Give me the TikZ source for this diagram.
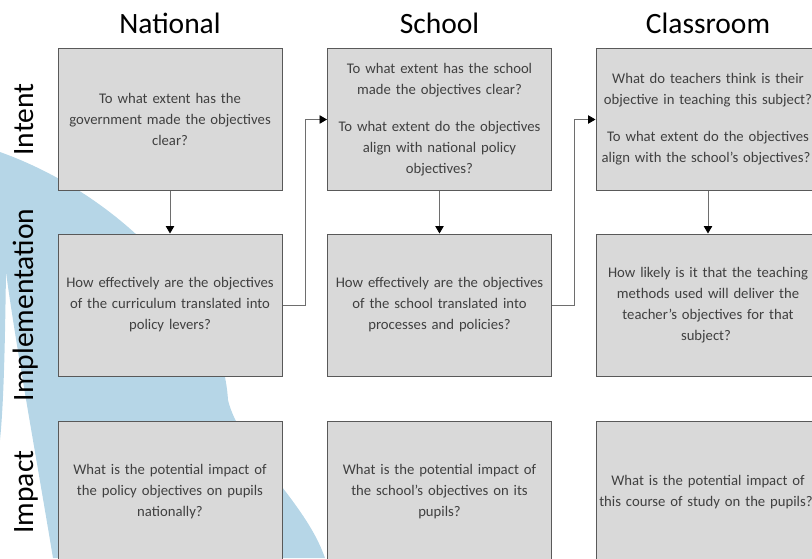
\documentclass[tikz,border=0pt]{standalone}
\usepackage{fontspec}
\setmainfont{Carlito}
\usetikzlibrary{arrows.meta}
\definecolor{swoosh}{RGB}{182,214,231}
\definecolor{boxfill}{RGB}{217,217,217}
\definecolor{boxline}{RGB}{89,89,89}
\definecolor{txt}{RGB}{64,64,64}
\definecolor{conn}{RGB}{110,110,110}
\newcommand{\padR}{\hspace*{4pt}}
\tikzset{
  qbox/.style={draw=boxline, fill=boxfill, line width=1pt, minimum width=224pt,
    minimum height=142pt, inner xsep=0pt, inner ysep=0pt, text width=222pt, align=center,
    font=\fontsize{14.7}{21}\selectfont, text=txt},
  head/.style={font=\fontsize{29.5}{31}\selectfont, anchor=base, inner sep=0pt},
  rowlab/.style={font=\fontsize{29.5}{31}\selectfont, anchor=base, rotate=90, inner sep=0pt},
  arr/.style={draw=conn, line width=0.9pt, -{Triangle[width=8.5pt,length=7.5pt,color=black,fill=black]}},
}
\begin{document}
\begin{tikzpicture}[x=1pt,y=-1pt]
\path[use as bounding box, clip] (0,0) rectangle (812,558);
% background swoosh
\fill[swoosh] (0,152) .. controls (120,195) and (222,300) .. (228,400)
  .. controls (240,450) and (305,500) .. (325,558) -- (53,558)
  .. controls (35,450) and (15,340) .. (6,272)
  .. controls (5,340) and (4,400) .. (0,440) -- cycle;
% headings
\node[head] (hN) at (170,33) {National};
\node[head] (hS) at (439.5,33) {School};
\node[head] (hC) at (708,33) {Classroom};
% row labels
\node[rowlab] (lI) at (33,119.5) {Intent};
\node[rowlab] (lM) at (33,305) {Implementation};
\node[rowlab] (lP) at (33,492) {Impact};
% boxes
\node[qbox] (n1) at (170,119.5) {To what extent has the\\government made the objectives\\clear?};
\node[qbox] (n2) at (170,305) {How effectively are the objectives\\of the curriculum translated into\\policy levers?};
\node[qbox] (n3) at (170,492) {What is the potential impact of\\the policy objectives on pupils\\nationally?};
\node[qbox] (s1) at (439.5,119.5) {To what extent has the school\\made the objectives clear?\\[16pt]To what extent do the objectives\\align with national policy\\objectives?};
\node[qbox] (s2) at (439.5,305) {How effectively are the objectives\\of the school translated into\\processes and policies?};
\node[qbox] (s3) at (439.5,492) {What is the potential impact of\\the school’s objectives on its\\pupils?};
\node[qbox] (c1) at (708,119.5) {What do teachers think is their\padR\\objective in teaching this subject?\padR\\[16pt]To what extent do the objectives\padR\\align with the school’s objectives?\padR};
\node[qbox] (c2) at (708,305) {How likely is it that the teaching\padR\\methods used will deliver the\padR\\teacher’s objectives for that\padR\\subject?\padR};
\node[qbox] (c3) at (708,492) {What is the potential impact of\padR\\this course of study on the pupils?\padR};
% connectors
\draw[arr] (n1) -- (n2);
\draw[arr] (s1) -- (s2);
\draw[arr] (c1) -- (c2);
\draw[arr] (n2.east) -- ++(23,0) |- (s1.west);
\draw[arr] (s2.east) -- ++(22.5,0) |- (c1.west);
\end{tikzpicture}
\end{document}
